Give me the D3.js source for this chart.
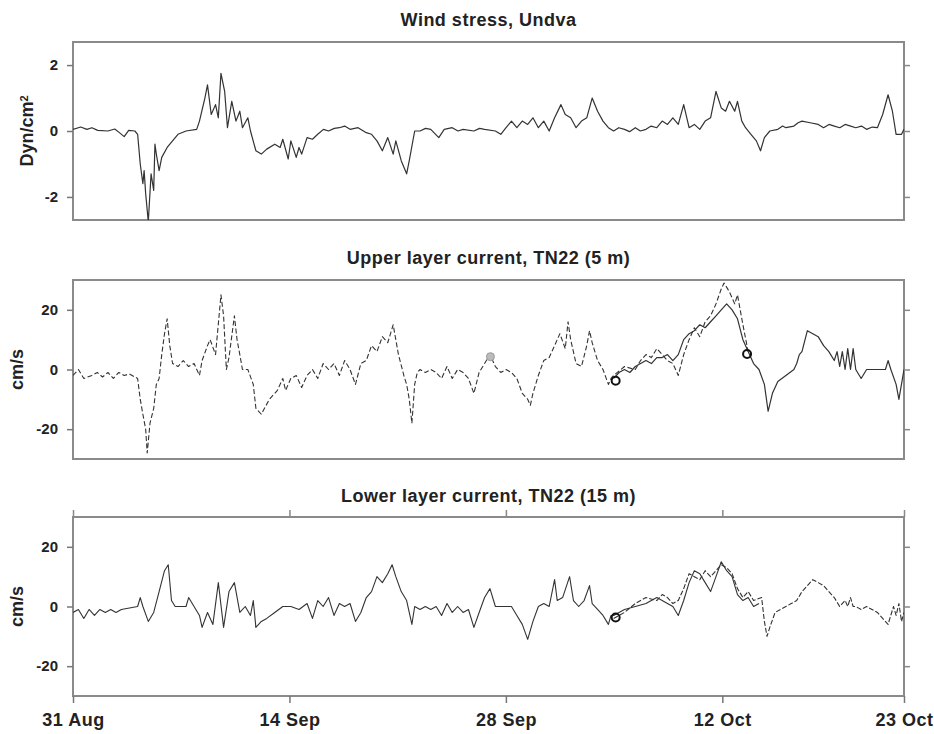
<!DOCTYPE html>
<html>
<head>
<meta charset="utf-8">
<script src="https://cdn.jsdelivr.net/npm/d3@7"></script>
<style>
  body { margin: 0; background: #fff; }
  svg text { font-family: "Liberation Sans", Arial, sans-serif; font-weight: bold; fill: #222; }
</style>
</head>
<body>
<svg id="chart" width="934" height="734"></svg>
<script>
// day offsets are counted from 31 Aug
var startDate = Date.UTC(1999, 7, 31);
var lastDay = 53.75;
var tickDays = [0, 14, 28, 42, 53.75];
var tickLabels = ["31 Aug", "14 Sep", "28 Sep", "12 Oct", "23 Oct"];
var windTicks = [-2, 0, 2];
var currentTicks = [-20, 0, 20];

// wind stress, Dyn/cm2  [day, value]
var windStress = [
  [0,0.05],[0.5,0.12],[0.9,0.05],[1.22,0.1],[1.6,0.02],[2.26,0.0],[2.7,0.06],[3.0,-0.05],[3.31,-0.17],[3.6,0.02],[4.0,0.0],
  [4.18,-0.1],[4.35,-1.0],[4.52,-1.6],[4.6,-1.2],[4.70,-1.9],[4.87,-2.75],[5.05,-1.3],[5.22,-1.8],[5.3,-0.4],[5.39,-0.7],
  [5.57,-1.2],[5.74,-0.8],[6.09,-0.5],[6.44,-0.3],[6.79,-0.1],[7.31,0.0],[8.0,0.05],[8.18,0.3],[8.53,1.0],[8.7,1.4],
  [8.94,0.5],[9.22,0.8],[9.4,0.4],[9.57,1.75],[9.81,1.2],[9.99,0.1],[10.27,0.9],[10.54,0.3],[10.79,0.6],[10.96,0.1],
  [11.31,0.4],[11.48,0.0],[11.83,-0.6],[12.18,-0.7],[12.53,-0.55],[13.05,-0.4],[13.4,-0.5],[13.57,-0.25],[13.92,-0.85],
  [14.09,-0.3],[14.44,-0.8],[14.62,-0.5],[14.79,-0.7],[15.14,-0.2],[15.49,-0.25],[15.83,-0.1],[16.2,0.05],[16.53,0.0],
  [16.9,0.08],[17.23,0.1],[17.57,0.15],[17.92,0.05],[18.44,0.1],[18.97,-0.05],[19.31,-0.1],[19.66,-0.3],[20.01,-0.6],
  [20.36,-0.2],[20.71,-0.7],[20.88,-0.3],[21.23,-0.9],[21.58,-1.3],[21.75,-0.9],[22.1,0.0],[22.45,0.0],[22.8,0.08],
  [23.14,0.05],[23.66,-0.2],[24.01,0.05],[24.53,0.1],[24.9,0.0],[25.23,0.05],[25.93,0.0],[26.3,0.08],[26.62,0.05],
  [27.32,0.0],[27.67,-0.1],[28.01,0.1],[28.36,0.3],[28.71,0.1],[29.06,0.3],[29.41,0.2],[29.75,0.4],[30.1,0.1],
  [30.45,0.3],[30.8,0.0],[31.15,0.4],[31.56,0.8],[31.84,0.5],[32.19,0.4],[32.54,0.1],[32.89,0.3],[33.23,0.4],
  [33.58,1.0],[33.93,0.6],[34.28,0.3],[34.63,0.1],[34.97,0.0],[35.3,0.1],[35.67,0.05],[36.0,-0.02],[36.37,0.1],
  [36.7,0.0],[37.06,0.05],[37.4,0.15],[37.76,0.1],[38.11,0.3],[38.45,0.2],[38.8,0.4],[39.15,0.2],[39.5,0.8],
  [39.85,0.1],[40.19,0.2],[40.54,0.05],[40.89,0.3],[41.24,0.4],[41.59,1.2],[41.93,0.7],[42.21,0.6],[42.46,0.9],
  [42.8,0.6],[42.98,0.9],[43.26,0.3],[43.5,0.1],[43.85,-0.1],[44.2,-0.3],[44.47,-0.6],[44.72,-0.2],[45.07,0.0],
  [45.59,0.05],[45.9,0.15],[46.11,0.1],[46.63,0.15],[46.9,0.25],[47.15,0.3],[47.68,0.25],[48.2,0.2],[48.55,0.1],
  [48.9,0.2],[49.24,0.15],[49.6,0.1],[49.94,0.2],[50.3,0.15],[50.63,0.1],[51.0,0.15],[51.33,0.05],[51.7,0.12],
  [52.03,0.1],[52.37,0.5],[52.72,1.1],[53.0,0.6],[53.24,-0.1],[53.59,-0.1],[53.75,0.05]
];

// upper layer current, cm/s
var upperObs = [
  [0,-2],[0.35,0],[0.7,-3],[1.22,-2],[1.57,-1],[1.91,-2.5],[2.26,-1],[2.61,-3],[2.96,-1],[3.31,-2],[3.65,-1.5],
  [4.18,-3],[4.35,-10],[4.52,-15],[4.7,-20],[4.8,-28],[4.98,-18],[5.22,-13],[5.39,-5],[5.57,-3],[5.74,5],[5.92,12],
  [6.09,17],[6.26,8],[6.44,2],[6.79,1],[7.13,3],[7.48,1],[7.83,2],[8.18,-2],[8.35,3],[8.7,8],[8.87,10],[9.22,5],
  [9.57,25],[9.74,18],[9.92,0],[10.09,4],[10.44,18],[10.61,10],[10.79,5],[10.96,0],[11.31,0],[11.66,-5],[11.83,-13],
  [12.18,-15],[12.7,-10],[13.22,-7],[13.57,-3],[13.75,-7],[14.09,-3],[14.44,-2],[14.79,-6],[15.14,-2],[15.49,0],
  [15.83,-3],[16.18,2],[16.53,0],[16.88,2],[17.23,-2],[17.57,3],[17.92,0],[18.27,-5],[18.62,2],[18.97,3],[19.31,8],
  [19.66,6],[20.01,11],[20.36,9],[20.71,15],[21.05,5],[21.4,-2],[21.58,-5],[21.75,-10],[21.92,-18],[22.1,-5],
  [22.27,-1],[22.45,0],[22.79,-1],[23.14,0],[23.49,-1],[23.84,-3],[24.19,1],[24.53,-3],[24.88,0],[25.23,-1],
  [25.58,-3],[25.93,-8],[26.27,-1],[26.62,2],[26.97,5],[27.32,1],[27.67,-1],[28.01,0],[28.36,-1],[28.71,-3],
  [29.06,-8],[29.41,-10],[29.58,-12],[29.75,-8],[30.1,-2],[30.45,3],[30.8,4],[31.15,8],[31.49,12],[31.84,7],
  [32.02,16],[32.19,10],[32.54,2],[32.89,1],[33.23,8],[33.41,13],[33.58,9],[33.93,3],[34.28,0],[34.63,-5],
  [34.8,-3],[34.97,-2],[35.67,1],[36.37,0],[36.71,3],[37.06,5],[37.41,4],[37.76,7],[38.11,5],[38.45,3],[38.8,2],
  [39.15,-2],[39.5,5],[39.85,10],[40.19,14],[40.54,11],[40.89,16],[41.24,18],[41.59,22],[41.93,27],[42.11,29],
  [42.46,26],[42.8,22],[42.98,25],[43.33,15],[43.67,6]
];
var upperModel = [
  [34.97,-3],[35.32,-1],[35.67,0],[36.02,-1],[36.37,1],[36.71,2],[37.06,3],[37.41,2],[37.76,4],[38.11,4],[38.45,5],
  [38.8,3],[39.15,5],[39.5,10],[39.85,12],[40.19,13],[40.54,15],[40.89,14],[41.24,16],[41.59,18],[41.93,20],
  [42.28,22],[42.63,20],[42.98,17],[43.33,10],[43.67,6],[44.02,2],[44.37,0],[44.72,-5],[44.96,-14],[45.24,-8],
  [45.59,-4],[46.11,-2],[46.63,0],[46.81,2],[46.98,5],[47.15,6],[47.5,13],[47.85,12],[48.2,11],[48.55,8],[48.89,6],
  [49.24,3],[49.42,6],[49.59,1],[49.76,6],[49.94,0],[50.11,7],[50.29,0],[50.46,7],[50.63,0],[50.98,-3],[51.33,0],
  [52.03,0],[52.55,0],[52.72,3],[52.9,0],[53.24,-5],[53.42,-10],[53.75,0]
];
var upperMarks = [[35.1,-3.8],[43.6,5.2]];
var upperGrayMarks = [[27.0,4.3]];

// lower layer current, cm/s
var lowerObs = [
  [0,-2],[0.35,-1],[0.7,-4],[1.04,-1],[1.39,-3],[1.74,-1],[2.09,-2],[2.44,-1],[2.78,-2],[3.13,-1],[3.65,-0.5],
  [4.18,0],[4.35,3],[4.52,0],[4.87,-5],[5.22,-2],[5.57,5],[5.92,12],[6.16,14],[6.37,2],[6.61,0],[7.31,0],[7.48,3],
  [7.83,0],[8.18,-3],[8.35,-7],[8.7,-2],[9.05,-6],[9.4,8],[9.74,-7],[10.09,5],[10.44,8],[10.79,-2],[11.14,0],
  [11.48,-3],[11.66,2],[11.83,-7],[12.18,-5],[12.53,-4],[13.05,-2],[13.57,0],[14.09,0],[14.62,-1],[15.14,1],
  [15.49,-4],[15.83,2],[16.18,0],[16.53,3],[16.88,-3],[17.23,1],[17.57,0],[17.92,1],[18.27,-5],[18.62,-2],[18.97,3],
  [19.31,5],[19.66,10],[20.01,8],[20.36,11],[20.64,14],[20.88,10],[21.23,5],[21.58,2],[21.92,-6],[22.1,0],[22.45,-1],
  [22.79,0],[23.14,-1],[23.49,0],[23.84,-3],[24.19,1],[24.53,-2],[24.88,0],[25.23,-2],[25.58,-1],[25.93,-7],
  [26.27,-2],[26.62,3],[26.97,6],[27.32,0],[27.67,0],[28.36,0],[28.71,-3],[29.06,-6],[29.41,-11],[29.75,-5],
  [30.1,0],[30.45,1],[30.8,0],[31.15,9],[31.32,2],[31.67,3],[32.12,10],[32.37,2],[32.71,0],[33.06,2],[33.41,7],
  [33.58,1],[33.93,-1],[34.28,-3],[34.63,-6],[34.8,-3],[34.97,-3],[35.67,-1],[36.37,0],[37.06,1],[37.76,3],
  [38.11,2],[38.45,1],[38.8,0],[39.15,-3],[39.5,2],[39.85,8],[40.19,12],[40.54,11],[40.89,8],[41.24,5],[41.59,10],
  [41.93,15],[42.28,12],[42.63,10],[42.98,4],[43.33,2],[43.67,3],[44.02,0],[44.37,1]
];
var lowerModel = [
  [34.97,-4],[35.67,-2],[36.37,1],[37.06,3],[37.76,2],[38.11,4],[38.45,3],[38.8,1],[39.15,2],[39.5,6],[39.85,11],
  [40.19,10],[40.54,9],[40.89,12],[41.24,10],[41.59,12],[41.93,14],[42.28,13],[42.63,11],[42.98,6],[43.33,3],
  [43.67,5],[44.02,2],[44.54,3],[44.72,-5],[44.89,-10],[45.07,-7],[45.41,-2],[45.76,-1],[46.11,0],[46.46,1],
  [46.81,2],[47.15,5],[47.5,7],[47.85,9],[48.2,8],[48.55,7],[48.89,5],[49.24,3],[49.59,0],[49.94,2],[50.11,0],
  [50.29,3],[50.46,0],[50.63,0],[50.98,-1],[51.33,0],[51.68,-1],[52.03,-2],[52.37,-4],[52.72,-6],[53.07,0],
  [53.24,-3],[53.42,1],[53.59,-5],[53.75,-2]
];
var lowerMarks = [[35.1,-3.7]];

function toDate(day) {
  return new Date(startDate + day * 864e5);
}

var svg = d3.select("#chart");
var left = 73, right = 904;

var x = d3.scaleUtc()
  .domain([toDate(0), toDate(lastDay)])
  .range([left, right]);

var panels = [
  { title: "Wind stress, Undva", label: "Dyn/cm", sup: "2", labelX: 27, top: 42, bottom: 220,
    domain: [-2.7, 2.7], ticks: windTicks, titleY: 26,
    series: [{ data: windStress, dash: null, width: 1.2 }], marks: [], grayMarks: [] },
  { title: "Upper layer current, TN22 (5 m)", label: "cm/s", labelX: 17, top: 280, bottom: 459,
    domain: [-30, 30], ticks: currentTicks, titleY: 264,
    series: [{ data: upperObs, dash: "5,2.5", width: 1.1 }, { data: upperModel, dash: null, width: 1.2 }],
    marks: upperMarks, grayMarks: upperGrayMarks },
  { title: "Lower layer current, TN22 (15 m)", label: "cm/s", labelX: 17, top: 517, bottom: 696,
    domain: [-30, 30], ticks: currentTicks, titleY: 502,
    series: [{ data: lowerObs, dash: null, width: 1.1 }, { data: lowerModel, dash: "5,2", width: 1.1 }],
    marks: lowerMarks, grayMarks: [], xAxis: true }
];

panels.forEach(function(p, i) {
  var y = d3.scaleLinear().domain(p.domain).range([p.bottom, p.top]);
  var g = svg.append("g").attr("class", "panel");

  g.append("defs").append("clipPath")
    .attr("id", "clip" + i)
    .append("rect")
    .attr("x", left).attr("y", p.top)
    .attr("width", right - left).attr("height", p.bottom - p.top);

  // frame
  g.append("rect")
    .attr("x", left).attr("y", p.top)
    .attr("width", right - left).attr("height", p.bottom - p.top)
    .attr("fill", "none")
    .attr("stroke", "#8a8a8a")
    .attr("stroke-width", 2);

  // plain hyphen for negatives, like the original
  var ya = g.append("g")
    .attr("transform", "translate(" + left + ",0)")
    .call(d3.axisLeft(y).tickValues(p.ticks).tickSize(6).tickPadding(9)
      .tickFormat(function(d) { return String(d); }));
  ya.select(".domain").remove();
  ya.selectAll("line").attr("stroke", "#777").attr("stroke-width", 1.5);
  ya.selectAll("text").style("font-size", "15px").attr("fill", "#222");

  var yr = g.append("g")
    .attr("transform", "translate(" + right + ",0)")
    .call(d3.axisRight(y).tickValues(p.ticks).tickSize(6).tickFormat(""));
  yr.select(".domain").remove();
  yr.selectAll("line").attr("stroke", "#888").attr("stroke-width", 1.5);

  if (p.xAxis) {
    var tickDates = tickDays.map(toDate);
    var xb = g.append("g")
      .attr("transform", "translate(0," + p.bottom + ")")
      .call(d3.axisBottom(x).tickValues(tickDates).tickSize(7).tickPadding(10)
        .tickFormat(function(d, k) { return tickLabels[k]; }));
    xb.select(".domain").remove();
    xb.selectAll("line").attr("stroke", "#777").attr("stroke-width", 1.5);
    xb.selectAll("text").style("font-size", "18px").style("letter-spacing", "0.5px").attr("fill", "#222");

    var xt = g.append("g")
      .attr("transform", "translate(0," + p.top + ")")
      .call(d3.axisTop(x).tickValues(tickDates).tickSize(7).tickFormat(""));
    xt.select(".domain").remove();
    xt.selectAll("line").attr("stroke", "#888").attr("stroke-width", 1.5);
  }

  g.append("text")
    .attr("x", (left + right) / 2)
    .attr("y", p.titleY)
    .attr("text-anchor", "middle")
    .style("font-size", "18px")
    .style("letter-spacing", "0.5px")
    .text(p.title);

  var lab = g.append("text")
    .attr("transform", "translate(" + p.labelX + "," + ((p.top + p.bottom) / 2) + ") rotate(-90)")
    .attr("text-anchor", "middle")
    .attr("dy", "0.35em")
    .style("font-size", "18px")
    .text(p.label);
  if (p.sup) {
    lab.append("tspan").attr("dy", "-0.45em").style("font-size", "11px").text(p.sup);
  }

  var line = d3.line()
    .x(function(d) { return x(toDate(d[0])); })
    .y(function(d) { return y(d[1]); });

  var lines = g.append("g").attr("clip-path", "url(#clip" + i + ")");
  p.series.forEach(function(s) {
    lines.append("path")
      .datum(s.data)
      .attr("d", line)
      .attr("fill", "none")
      .attr("stroke", "#333")
      .attr("stroke-width", s.width)
      .attr("stroke-linejoin", "round")
      .attr("stroke-dasharray", s.dash);
  });

  lines.selectAll("circle.mark")
    .data(p.marks).enter()
    .append("circle")
    .attr("class", "mark")
    .attr("cx", function(d) { return x(toDate(d[0])); })
    .attr("cy", function(d) { return y(d[1]); })
    .attr("r", 4)
    .attr("fill", "none")
    .attr("stroke", "#111")
    .attr("stroke-width", 2);

  lines.selectAll("circle.gray")
    .data(p.grayMarks).enter()
    .append("circle")
    .attr("class", "gray")
    .attr("cx", function(d) { return x(toDate(d[0])); })
    .attr("cy", function(d) { return y(d[1]); })
    .attr("r", 4)
    .attr("fill", "#bbb")
    .attr("stroke", "#999")
    .attr("stroke-width", 1);
});
</script>
</body>
</html>
